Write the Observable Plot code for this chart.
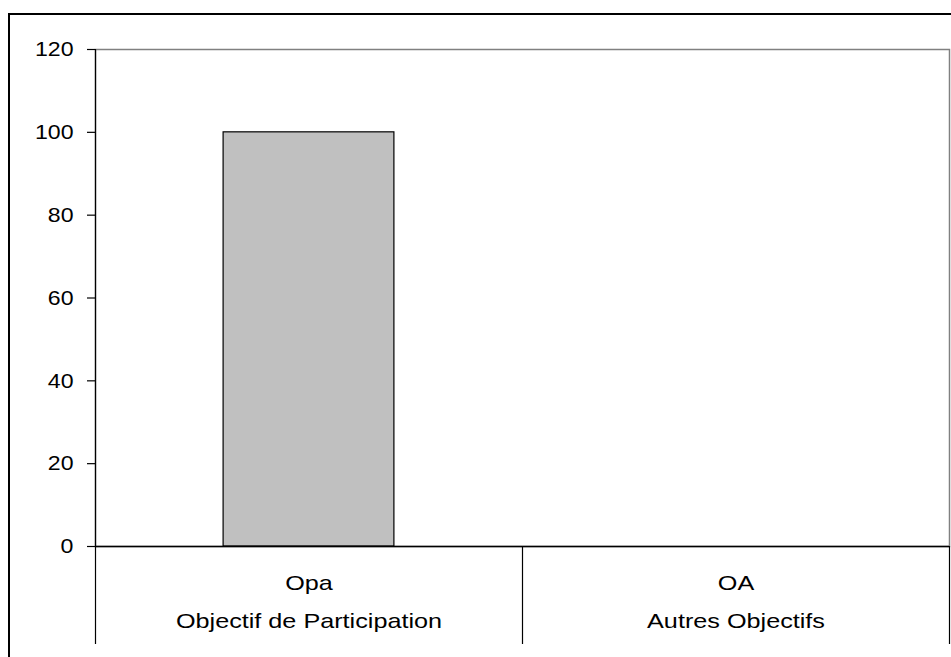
<!DOCTYPE html>
<html>
<head>
<meta charset="utf-8">
<script src="https://cdn.jsdelivr.net/npm/d3@7"></script>
<script src="https://cdn.jsdelivr.net/npm/@observablehq/plot@0.6"></script>
<style>
  html, body { margin: 0; padding: 0; background: #fff; overflow: hidden; }
  #wrap { position: relative; width: 951px; height: 657px; }
  #chart { position: absolute; left: 0; top: 0; }
  #border { position: absolute; left: 8px; top: 13px; width: 1000px; height: 1000px;
            border: 2px solid #000; pointer-events: none; z-index: 2; }
</style>
</head>
<body>
<div id="wrap"><div id="chart"></div><div id="border"></div></div>
<script>
const categories = ["Opa", "OA"];
const categoryNames = ["Objectif de Participation", "Autres Objectifs"];
const values = [100, 0];
const yTicks = [0, 20, 40, 60, 80, 100, 120];

const data = categories.map((c, i) => ({i, code: c, name: categoryNames[i], value: values[i]}));
const gap = 0.3; // bar occupies 40% of its category slot

const chart = Plot.plot({
  width: 951,
  height: 657,
  marginLeft: 95,
  marginRight: 2,
  marginTop: 49,
  marginBottom: 111,
  style: {fontFamily: "'Liberation Sans', Arial, sans-serif", fontSize: "21px", background: "transparent", color: "#000"},
  x: {domain: [0, categories.length], axis: null, label: null},
  y: {domain: [0, 120], axis: null, label: null},
  marks: [
    Plot.frame({stroke: "#808080", strokeWidth: 1.5}),
    Plot.rectY(data, {x1: d => d.i + gap, x2: d => d.i + 1 - gap, y: "value", fill: "#C0C0C0", stroke: "#000", strokeWidth: 1.2}),
    Plot.ruleY([0], {stroke: "#000", strokeWidth: 1.3}),
    Plot.ruleX([0], {stroke: "#000", strokeWidth: 1.2}),
    Plot.axisY({ticks: yTicks, tickSize: 8, tickPadding: 14, fontSize: 21, label: null, strokeWidth: 1.2}),
    Plot.axisX({ticks: d3.range(categories.length + 1), tickSize: 98, tickFormat: () => "", label: null, strokeWidth: 1.2}),
    Plot.axisX({ticks: data.map(d => d.i + 0.5), tickSize: 0, tickPadding: 29, fontSize: 21, label: null,
                tickFormat: v => categories[Math.floor(v)]}),
    Plot.axisX({ticks: data.map(d => d.i + 0.5), tickSize: 0, tickPadding: 67, fontSize: 21, label: null,
                tickFormat: v => categoryNames[Math.floor(v)]})
  ]
});
document.getElementById("chart").appendChild(chart);

// Widen glyphs horizontally (the reference font is horizontally stretched)
d3.select(chart).selectAll("text").each(function() {
  const s = this.textContent;
  if (!s) return;
  const w = this.getComputedTextLength();
  const k = /^\d+$/.test(s) ? 1.1 : 1.2;
  if (w > 0) {
    this.setAttribute("textLength", (w * k).toFixed(1));
    this.setAttribute("lengthAdjust", "spacingAndGlyphs");
  }
});
</script>
</body>
</html>
